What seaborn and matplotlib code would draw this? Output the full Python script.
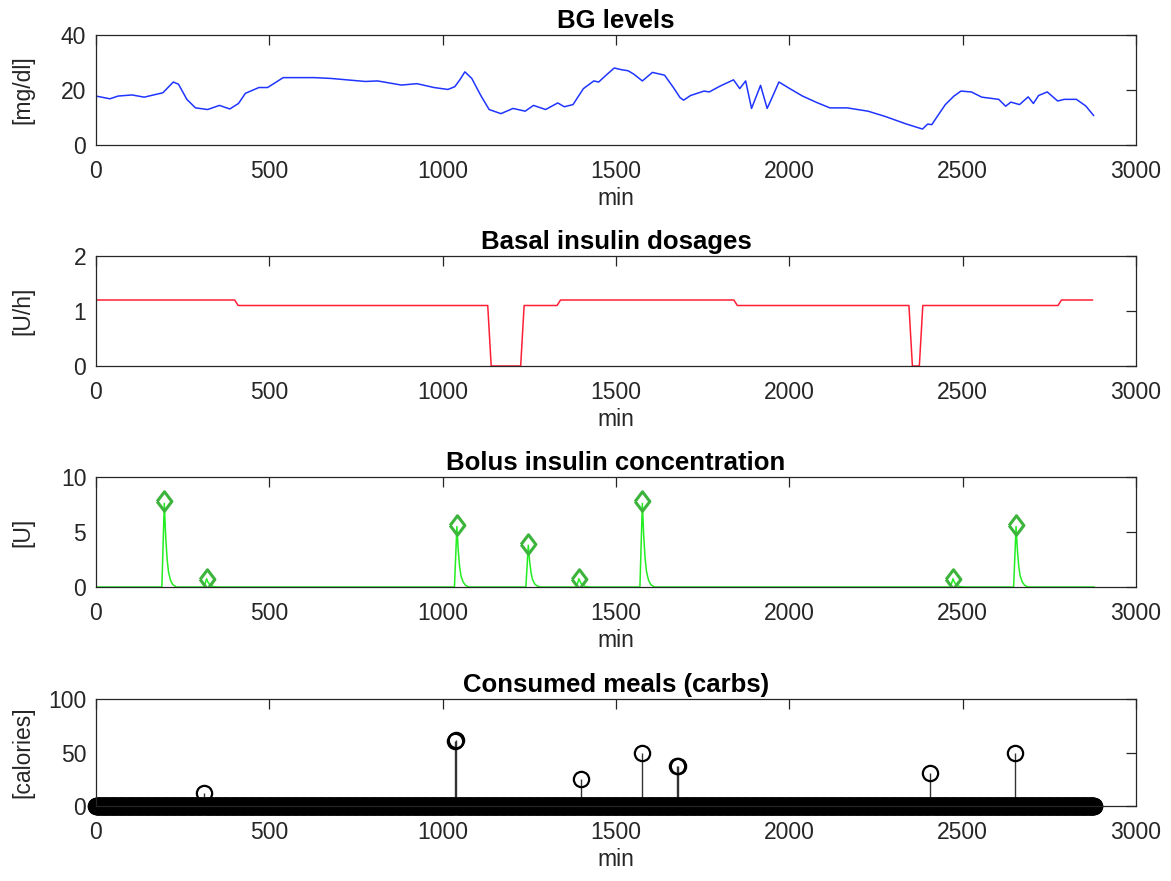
import numpy as np
import matplotlib
matplotlib.use("Agg")
import matplotlib.pyplot as plt
import seaborn as sns

# ---- data ----
bg_time = [0, 40, 64, 104, 139, 193, 223, 238, 262, 287, 322, 356, 386, 411, 431, 470, 495,
           540, 629, 678, 777, 812, 881, 926, 975, 1015, 1035, 1050, 1064, 1084, 1110, 1134, 1168,
           1203, 1238, 1262, 1297, 1332, 1351, 1376, 1406, 1436, 1450, 1475, 1495, 1515, 1535,
           1551, 1576, 1605, 1640, 1665, 1685, 1695, 1715, 1754, 1769, 1800, 1839, 1857, 1874,
           1891, 1917, 1936, 1948, 1970, 2000, 2038, 2080, 2117, 2167, 2227, 2276, 2336, 2384,
           2399, 2411, 2430, 2450, 2475, 2495, 2525, 2555, 2604, 2624, 2639, 2664, 2689, 2704,
           2719, 2744, 2774, 2793, 2828, 2855, 2878]
bg_value = [17.8, 16.8, 17.8, 18.2, 17.4, 19.0, 22.9, 22.1, 16.6, 13.5, 12.9, 14.4, 13.1, 15.1,
            18.8, 20.9, 20.9, 24.5, 24.5, 24.2, 23.1, 23.3, 21.8, 22.3, 20.9, 20.2, 21.2, 23.8,
            26.6, 24.2, 18.0, 12.9, 11.4, 13.3, 12.3, 14.4, 12.9, 15.3, 13.9, 14.7, 20.5, 23.3,
            22.9, 25.8, 28.0, 27.4, 27.0, 25.8, 23.3, 26.4, 25.4, 21.0, 17.2, 16.3, 18.0, 19.6,
            19.3, 21.4, 23.7, 20.5, 23.3, 13.3, 21.7, 13.3, 16.6, 22.9, 20.6, 17.8, 15.4, 13.5,
            13.5, 12.3, 10.4, 7.7, 5.8, 7.6, 7.4, 11.0, 14.7, 17.8, 19.6, 19.3, 17.4, 16.6, 14.1,
            15.6, 14.7, 17.5, 15.1, 18.0, 19.3, 16.0, 16.6, 16.6, 14.2, 10.7]

basal_time = [0, 400, 410, 1130, 1140, 1225, 1235, 1330, 1340, 1840, 1850,
              2345, 2355, 2375, 2385, 2775, 2785, 2875]
basal_rate = [1.2, 1.2, 1.1, 1.1, 0, 0, 1.1, 1.1, 1.2, 1.2, 1.1,
              1.1, 0, 0, 1.1, 1.1, 1.2, 1.2]

bolus_time = [197, 319, 1041, 1247, 1393, 1576, 2472, 2654]
bolus_units = [7.8, 0.75, 5.6, 3.9, 0.75, 7.8, 0.75, 5.6]

# concentration trace (spikes after each bolus)
conc_time = [0,
             190, 197, 201, 205, 209, 215, 222, 232,
             312, 319, 323, 327, 331, 337, 344, 354,
             1034, 1041, 1045, 1049, 1053, 1059, 1066, 1076,
             1240, 1247, 1251, 1255, 1259, 1265, 1272, 1282,
             1386, 1393, 1397, 1401, 1405, 1411, 1418, 1428,
             1569, 1576, 1580, 1584, 1588, 1594, 1601, 1611,
             2465, 2472, 2476, 2480, 2484, 2490, 2497, 2507,
             2647, 2654, 2658, 2662, 2666, 2672, 2679, 2689,
             2880]
conc_value = [0,
              0, 7.6, 4.6, 2.6, 1.4, 0.6, 0.2, 0,
              0, 0.75, 0.45, 0.25, 0.14, 0.06, 0.02, 0,
              0, 5.5, 3.3, 1.8, 1.0, 0.45, 0.15, 0,
              0, 3.8, 2.3, 1.3, 0.7, 0.3, 0.1, 0,
              0, 0.75, 0.45, 0.25, 0.14, 0.06, 0.02, 0,
              0, 7.6, 4.6, 2.6, 1.4, 0.6, 0.2, 0,
              0, 0.75, 0.45, 0.25, 0.14, 0.06, 0.02, 0,
              0, 5.5, 3.3, 1.8, 1.0, 0.45, 0.15, 0,
              0]

meal_time = [312, 1036, 1039, 1399, 1574, 1676, 1678, 2405, 2651]
meal_carbs = [12.6, 61.0, 62.0, 24.8, 49.8, 37.0, 37.6, 31.0, 49.8]

minutes = np.arange(0, 2880)
carbs = np.zeros(len(minutes))
carbs[meal_time] = meal_carbs

# ---- figure ----
sns.set_style("white")
plt.rcParams['font.family'] = ['Liberation Sans', 'DejaVu Sans']

W, H = 1171, 881
fig = plt.figure(figsize=(W / 100, H / 100), dpi=100)
rows = [(35, 145), (256, 366), (477, 587), (699, 806)]
axes = [fig.add_axes([96 / W, 1 - b / H, 1040 / W, (b - t) / H]) for t, b in rows]

AX_COL = '#262626'


def matlab_look(ax, title, ylabel, ylim, yticks):
    ax.set_xlim(0, 3000)
    ax.set_xticks(range(0, 3001, 500))
    ax.set_ylim(*ylim)
    ax.set_yticks(yticks)
    ax.set_title(title, fontsize=18.5, fontweight='bold', pad=5, color='black')
    ax.set_xlabel('min', fontsize=16.5, labelpad=3)
    ax.set_ylabel(ylabel, fontsize=16.5)
    # all y labels line up at the same x, like in the reference
    ax.yaxis.set_label_coords(-0.059, 0.5)
    ax.tick_params(direction='in', top=True, right=True, labelsize=16.5,
                   length=7, width=0.9, color=AX_COL, labelcolor=AX_COL)
    ax.tick_params(axis='x', pad=11)
    ax.tick_params(axis='y', pad=7)
    for s in ax.spines.values():
        s.set_color(AX_COL)
        s.set_linewidth(0.9)


ax = axes[0]
sns.lineplot(x=bg_time, y=bg_value, ax=ax, color='#1f35ff', linewidth=1.1, estimator=None)
matlab_look(ax, 'BG levels', '[mg/dl]', (0, 40), [0, 20, 40])

ax = axes[1]
sns.lineplot(x=basal_time, y=basal_rate, ax=ax, color='#ff1f35', linewidth=1.1, estimator=None)
matlab_look(ax, 'Basal insulin dosages', '[U/h]', (0, 2), [0, 1, 2])

ax = axes[2]
sns.lineplot(x=conc_time, y=conc_value, ax=ax, color='#22ee22', linewidth=1.1, estimator=None)
diamond = [(-0.38, 0), (0, 0.5), (0.38, 0), (0, -0.5), (-0.38, 0)]
ax.plot(bolus_time, bolus_units, ls='none', marker=diamond, ms=14, mfc='none',
        mec='#3cb43c', mew=2.2)
matlab_look(ax, 'Bolus insulin concentration', '[U]', (0, 10), [0, 5, 10])

ax = axes[3]
markerline, stemlines, baseline = ax.stem(minutes, carbs, linefmt='-', markerfmt='o', basefmt=' ')
stemlines.set_color('#333333')
stemlines.set_linewidth(1.0)
markerline.set_markerfacecolor('none')
markerline.set_markeredgecolor('black')
markerline.set_markersize(11)
markerline.set_markeredgewidth(1.6)
markerline.set_clip_on(False)
matlab_look(ax, 'Consumed meals (carbs)', '[calories]', (0, 100), [0, 50, 100])

fig.savefig('out.png', dpi=100)
